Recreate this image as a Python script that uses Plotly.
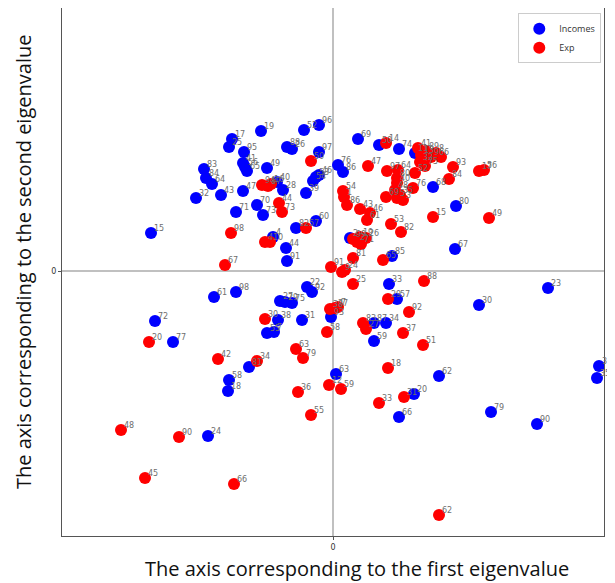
import plotly.graph_objects as go

# Incomes (blue) coordinates on the first/second eigen-axes, with point labels
inc_labels = ["15","19","17","25","95","52","96","88","26","97","41","56","65","49","83","84","64","32","43","47",
              "40","28","70","71","73","39","54","53","46","60","82","4","44","91","61","98","22","92","27","29",
              "75","38","31","55","7","81","58","18","24","72","77","69","50","74","11","76","86","68","80","67",
              "85","33","57","87","34","59","62","63","20","66","79","90","36","35","23","30","93","2"]
inc_x = [-1.82,-0.72,-1.01,-1.04,-0.89,-0.29,-0.14,-0.46,-0.41,-0.14,-0.90,-0.88,-0.86,-0.66,-1.29,-1.27,-1.21,-1.37,-1.12,-0.90,
         -0.56,-0.50,-0.76,-0.97,-0.70,-0.27,-0.20,-0.17,-0.14,-0.17,-0.37,-0.60,-0.47,-0.46,-1.19,-0.97,-0.26,-0.21,-0.53,-0.48,
         -0.41,-0.55,-0.31,-0.66,-0.59,-0.84,-1.04,-1.05,-1.25,-1.78,-1.60,0.25,0.46,0.66,0.82,0.05,0.10,1.00,1.23,1.22,
         0.59,0.56,0.64,0.41,0.53,0.41,1.06,0.03,0.81,0.66,1.58,2.04,2.66,2.64,2.15,1.46,-0.02,0.17]
inc_y = [0.38,1.40,1.32,1.24,1.19,1.41,1.46,1.24,1.22,1.19,1.08,1.04,1.00,1.03,1.02,0.93,0.87,0.73,0.76,0.80,
         0.89,0.81,0.66,0.59,0.56,0.78,0.90,0.94,0.96,0.50,0.43,0.34,0.23,0.10,-0.26,-0.21,-0.16,-0.21,-0.30,-0.31,
         -0.32,-0.49,-0.49,-0.62,-0.61,-0.96,-1.09,-1.20,-1.65,-0.50,-0.71,1.32,1.26,1.22,1.18,1.06,0.99,0.84,0.65,0.22,
         0.15,-0.13,-0.28,-0.52,-0.52,-0.70,-1.05,-1.03,-1.23,-1.46,-1.41,-1.53,-0.95,-1.07,-0.17,-0.34,-0.46,0.33]

# Expenditures (red)
exp_labels = ["50","94","87","16","44","73","98","57","4","10","67","30","63","79","42","34","36","48","90","45",
              "66","12","59","55","33","31","62","20","99","2","71","26","19","82","81","91","9","24","25","65",
              "88","29","92","38","77","7","58","83","27","37","51","18","14","41","13","89","96","8","6","32",
              "75","93","84","15","17","56","49","47","97","64","80","52","76","40","69","48","35","3","5","54",
              "1","86","43","46","61","53"]
exp_x = [-0.22,-0.71,-0.65,-0.62,-0.54,-0.51,-1.02,-0.27,-0.68,-0.63,-1.08,-0.68,-0.37,-0.30,-1.15,-0.76,-0.35,-2.12,-1.54,-1.88,
         -0.99,-0.04,0.08,-0.22,0.46,0.71,1.06,-1.84,0.20,0.24,0.28,0.33,0.27,0.68,0.20,-0.02,0.09,0.12,0.20,0.50,
         0.91,0.55,0.76,-0.03,0.02,0.05,-0.06,0.30,0.33,0.70,0.90,0.55,0.53,0.85,0.88,0.93,0.98,1.03,1.08,0.87,
         0.92,1.20,1.16,1.00,1.46,1.51,1.56,0.35,0.54,0.65,0.64,0.82,0.80,0.64,0.53,0.62,0.67,0.70,0.64,0.10,
         0.11,0.14,0.27,0.37,0.34,0.58]
exp_y = [1.10,0.86,0.85,0.87,0.68,0.59,0.38,0.43,0.29,0.29,0.06,-0.48,-0.78,-0.87,-0.88,-0.90,-1.21,-1.59,-1.66,-2.07,
         -2.13,-1.14,-1.18,-1.44,-1.32,-1.26,-2.44,-0.71,0.32,0.29,0.27,0.33,0.34,0.39,0.13,0.04,-0.01,0.01,-0.13,0.11,
         -0.10,-0.28,-0.41,-0.38,-0.37,-0.36,-0.61,-0.52,-0.58,-0.62,-0.74,-0.97,1.28,1.23,1.16,1.20,1.14,1.18,1.14,1.09,
         1.05,1.04,0.92,0.54,1.00,1.01,0.53,1.05,1.00,1.01,0.93,0.98,0.83,0.88,0.74,0.81,0.76,0.71,0.73,0.80,
         0.74,0.66,0.62,0.58,0.51,0.47]

x_range = [-2.71, 2.71]
y_range = [-2.65, 2.63]

label_font = dict(family="DejaVu Sans", size=8, color="#6e6e6e")

fig = go.Figure()
fig.add_trace(go.Scatter(x=inc_x, y=inc_y, mode="markers", name="Incomes",
                         marker=dict(color="#0000ff", size=12, line=dict(width=0))))
fig.add_trace(go.Scatter(x=exp_x, y=exp_y, mode="markers", name="Exp",
                         marker=dict(color="#ff0000", size=12, line=dict(width=0))))

# point labels, written just above-right of each point (blue first, then red on top)
annotations = []
for xs, ys, labs in ((inc_x, inc_y, inc_labels), (exp_x, exp_y, exp_labels)):
    for xv, yv, lab in zip(xs, ys, labs):
        annotations.append(dict(x=xv, y=yv, xref="x", yref="y", text=lab, showarrow=False,
                                xanchor="left", yanchor="bottom", xshift=2, yshift=-1,
                                borderpad=0, font=label_font))

axis_common = dict(showgrid=False, zeroline=True, zerolinecolor="#c0c0c0", zerolinewidth=1.5,
                   showline=True, linecolor="#555555", linewidth=1, mirror=True,
                   tickvals=[0], ticktext=["0"], ticks="outside", ticklen=3, tickcolor="#555555",
                   tickfont=dict(family="DejaVu Sans", size=8, color="#333333"))
fig.update_xaxes(range=x_range, **axis_common)
fig.update_yaxes(range=y_range, **axis_common)

annotations += [
    dict(text="The axis corresponding to the first eigenvalue", xref="paper", yref="paper",
         x=0.544, y=-0.061, xanchor="center", yanchor="middle", showarrow=False,
         font=dict(family="Open Sans", size=20, color="#111111")),
    dict(text="The axis corresponding to the second eigenvalue", xref="paper", yref="paper",
         x=-0.07, y=0.519, xanchor="center", yanchor="middle", showarrow=False, textangle=-90,
         font=dict(family="Open Sans", size=20, color="#111111")),
]

# the page body adds an 8px offset, so the figure is sized to fit inside the window
fig.update_layout(
    width=607, height=575,
    margin=dict(l=54, r=11, t=0, b=47),
    paper_bgcolor="white", plot_bgcolor="white",
    showlegend=True,
    legend=dict(x=0.995, y=0.99, xanchor="right", yanchor="top",
                bordercolor="#cccccc", borderwidth=1, bgcolor="white",
                font=dict(family="Open Sans", size=9, color="#333333"),
                tracegroupgap=0, itemsizing="constant"),
    annotations=annotations,
)

fig.write_html("out.html")
